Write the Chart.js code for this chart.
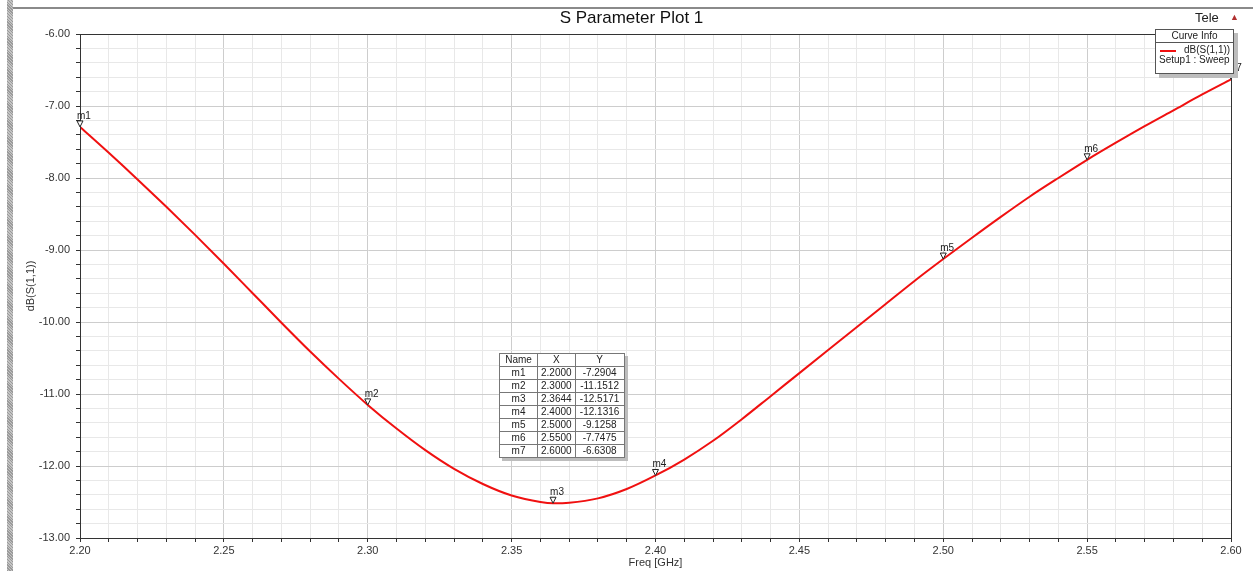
<!DOCTYPE html>
<html>
<head>
<meta charset="utf-8">
<script src="https://cdn.jsdelivr.net/npm/chart.js@4.4.1/dist/chart.umd.min.js"></script>
<style>
  html, body { margin: 0; padding: 0; background: #fff; width: 1253px; height: 571px; overflow: hidden; font-family: "Liberation Sans", Arial, sans-serif; }
  #wrap { position: relative; width: 1253px; height: 571px; }
  #chart { position: absolute; left: 0; top: 0; }
  .strip { position: absolute; left: 7px; top: 0; width: 6px; height: 571px;
    background: repeating-linear-gradient(45deg, #9a9a9a 0 1px, #c4c4c4 1px 2px); }
  .topline { position: absolute; left: 13px; top: 7px; width: 1240px; height: 2px; background: #8a8a8a; }
  .title { position: absolute; left: 0; width: 1263px; top: 8px; text-align: center; font-size: 17px; color: #111; }
  .tele { position: absolute; left: 1195px; top: 10px; font-size: 13px; color: #222; }
  .tri { position: absolute; left: 1230px; top: 12px; font-size: 9px; color: #b03030; }
  .legend { position: absolute; left: 1155px; top: 29px; width: 77px; height: 43px; background: #fff;
    border: 1px solid #555; box-shadow: 4px 4px 0 #bdbdbd; font-size: 10px; color: #222; }
  .legend .hd { text-align: center; height: 12px; line-height: 12px; border-bottom: 1px solid #555; }
  .legend .row { position: relative; height: 10px; line-height: 10px; padding-left: 28px; margin-top: 2px; }
  .legend .row i { position: absolute; left: 4px; top: 5px; width: 16px; height: 2px; background: #f01010; }
  .legend .sub { padding-left: 3px; height: 10px; line-height: 10px; }
  table.mk { position: absolute; left: 499px; top: 353px; border-collapse: collapse; background: #fff;
    box-shadow: 3px 3px 0 #bdbdbd; font-size: 10px; color: #222; border: 1px solid #555; }
  table.mk td, table.mk th { border: 1px solid #777; padding: 0 3px; height: 12px; line-height: 12px; font-weight: normal; text-align: center; }
</style>
</head>
<body>
<div id="wrap">
  <canvas id="chart" width="1253" height="571"></canvas>
  <div class="strip"></div>
  <div class="topline"></div>
  <div class="title">S Parameter Plot 1</div>
  <div class="tele">Tele</div>
  <div class="tri">&#9650;</div>
  <div class="legend">
    <div class="hd">Curve Info</div>
    <div class="row"><i></i>dB(S(1,1))</div>
    <div class="sub">Setup1 : Sweep</div>
  </div>
  <table class="mk" id="mk"></table>
</div>
<script>
// sweep
const freq = [2.20, 2.21, 2.22, 2.23, 2.24, 2.25, 2.26, 2.27, 2.28, 2.29,
              2.30, 2.31, 2.32, 2.33, 2.34, 2.35, 2.36, 2.3644, 2.37, 2.38, 2.39,
              2.40, 2.41, 2.42, 2.43, 2.44, 2.45, 2.46, 2.47, 2.48, 2.49,
              2.50, 2.51, 2.52, 2.53, 2.54, 2.55, 2.56, 2.57, 2.58, 2.59, 2.60];
const s11dB = [-7.2904, -7.65, -8.02, -8.40, -8.79, -9.19, -9.60, -10.01, -10.41, -10.79,
               -11.1512, -11.48, -11.78, -12.04, -12.25, -12.41, -12.50, -12.5171, -12.51, -12.45, -12.32,
               -12.1316, -11.91, -11.65, -11.35, -11.03, -10.71, -10.39, -10.07, -9.75, -9.43,
               -9.1258, -8.83, -8.54, -8.26, -8.00, -7.7475, -7.51, -7.28, -7.06, -6.84, -6.6308];

// markers
const markerNames = ['m1', 'm2', 'm3', 'm4', 'm5', 'm6', 'm7'];
const markerX = [2.2000, 2.3000, 2.3644, 2.4000, 2.5000, 2.5500, 2.6000];
const markerY = [-7.2904, -11.1512, -12.5171, -12.1316, -9.1258, -7.7475, -6.6308];

const xMin = 2.2, xMax = 2.6, yMin = -13, yMax = -6;

// marker table
const tbl = document.getElementById('mk');
let html = '<tr><th style="width:31px">Name</th><th style="width:30px">X</th><th style="width:42px">Y</th></tr>';
markerNames.forEach((n, i) => {
  html += `<tr><td>${n}</td><td>${markerX[i].toFixed(4)}</td><td>${markerY[i].toFixed(4)}</td></tr>`;
});
tbl.innerHTML = html;

const isMajorX = v => Math.abs(v * 20 - Math.round(v * 20)) < 1e-6;
const isMajorY = v => Math.abs(v - Math.round(v)) < 1e-6;

const frame = {
  id: 'frame',
  afterDatasetsDraw(chart) {
    const { ctx, chartArea: a, scales } = chart;
    ctx.save();
    ctx.strokeStyle = '#333';
    ctx.lineWidth = 1;
    ctx.strokeRect(a.left + 0.5, a.top + 0.5, a.right - a.left, a.bottom - a.top);
    // marker triangles + names
    ctx.font = '10px "Liberation Sans", Arial, sans-serif';
    markerX.forEach((mx, i) => {
      const px = scales.x.getPixelForValue(mx);
      const py = scales.y.getPixelForValue(markerY[i]);
      ctx.beginPath();
      ctx.moveTo(px, py);
      ctx.lineTo(px - 3, py - 6);
      ctx.lineTo(px + 3, py - 6);
      ctx.closePath();
      ctx.fillStyle = '#fff';
      ctx.fill();
      ctx.strokeStyle = '#222';
      ctx.stroke();
      ctx.fillStyle = '#222';
      ctx.textAlign = 'left';
      ctx.textBaseline = 'bottom';
      ctx.fillText(markerNames[i], px - 3, py - 6);
    });
    ctx.restore();
  }
};

new Chart(document.getElementById('chart'), {
  type: 'line',
  data: {
    datasets: [{
      label: 'dB(S(1,1))',
      data: freq.map((f, i) => ({ x: f, y: s11dB[i] })),
      borderColor: '#f01010',
      borderWidth: 2,
      pointRadius: 0,
      cubicInterpolationMode: 'monotone',
      fill: false
    }]
  },
  options: {
    responsive: false,
    devicePixelRatio: 1,
    animation: false,
    layout: { padding: { left: 0, right: 22, top: 34, bottom: 0 } },
    plugins: { legend: { display: false }, tooltip: { enabled: false } },
    scales: {
      x: {
        type: 'linear', min: xMin, max: xMax,
        afterFit(s) { s.height = 33; },
        afterBuildTicks(s) {
          const t = [];
          for (let i = 0; i <= 40; i++) t.push({ value: +(xMin + i * 0.01).toFixed(2) });
          s.ticks = t;
        },
        ticks: {
          autoSkip: false, maxRotation: 0, padding: 2, color: '#333',
          font: { family: '"Liberation Sans", Arial, sans-serif', size: 11 },
          callback: v => isMajorX(v) ? v.toFixed(2) : ''
        },
        grid: {
          color: c => c.tick && isMajorX(c.tick.value) ? '#cdcdcd' : '#e8e8e8',
          tickColor: '#333', tickLength: 4
        },
        border: { color: '#333' },
        title: { display: true, text: 'Freq [GHz]', color: '#333', padding: { top: 0, bottom: 1 },
          font: { family: '"Liberation Sans", Arial, sans-serif', size: 11 } }
      },
      y: {
        min: yMin, max: yMax,
        afterFit(s) { s.width = 80; },
        afterBuildTicks(s) {
          const t = [];
          for (let i = 0; i <= 35; i++) t.push({ value: +(yMin + i * 0.2).toFixed(1) });
          s.ticks = t;
        },
        ticks: {
          autoSkip: false, padding: 6, color: '#333',
          font: { family: '"Liberation Sans", Arial, sans-serif', size: 11 },
          callback: v => isMajorY(v) ? v.toFixed(2) : ''
        },
        grid: {
          color: c => c.tick && isMajorY(c.tick.value) ? '#cdcdcd' : '#e8e8e8',
          tickColor: '#333', tickLength: 4
        },
        border: { color: '#333' },
        title: { display: true, text: 'dB(S(1,1))', color: '#333', padding: { top: 24, bottom: 0 },
          font: { family: '"Liberation Sans", Arial, sans-serif', size: 11 } }
      }
    }
  },
  plugins: [frame]
});
</script>
</body>
</html>
